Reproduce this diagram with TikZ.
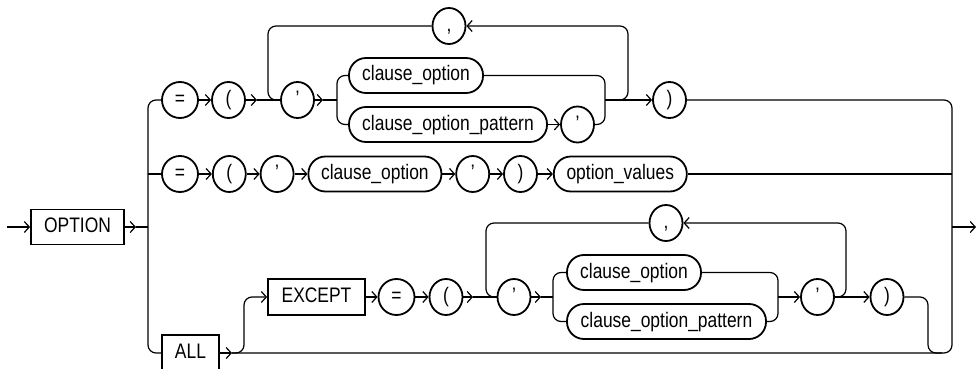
\documentclass[tikz,border=0pt]{standalone}
\usepackage{fontspec}
\setmainfont{Liberation Sans}[FakeStretch=0.83]
\usetikzlibrary{shapes.geometric,arrows.meta,positioning}

\begin{document}
\begin{tikzpicture}[
    x=1pt, y=-1pt,
    font=\fontsize{21}{24}\selectfont,
    node distance=13pt,
    line width=1.2pt,
    tok/.style={draw, ellipse, inner sep=0pt, minimum width=33pt, minimum height=36pt, line width=1.8pt, text height=15pt, text depth=4pt},
    nt/.style={draw, rectangle, rounded corners=17pt, inner sep=0pt, minimum height=35pt, line width=1.8pt, text height=15pt, text depth=4pt},
    kw/.style={draw, rectangle, inner sep=0pt, minimum height=35pt, line width=1.8pt, text height=15pt, text depth=4pt},
    arr/.style={-{Straight Barb[length=5pt,width=11pt]}},
    rail/.style={rounded corners=8pt}
]
\useasboundingbox (0,0) rectangle (977,369);

% entry
\coordinate (entry) at (7,227);
\node[kw, minimum width=93pt] (opt) at (77.5,227) {OPTION};
\coordinate (optarr) at (136,227);
\coordinate (lsplit) at (148,227);

% first row
\node[tok, minimum width=36pt] (eq1) at (180,100) {=};
\node[tok] (pa1) at (228.5,100) {(};
\node[tok] (q1) at (297.5,100) {’};
\node[tok] (cm1) at (449,26) {,};
\node[nt, minimum width=134pt] (co1) at (416,75.5) {clause\_option};
\node[nt, minimum width=198pt] (cop1) at (448,124.5) {clause\_option\_pattern};
\node[tok] (q2) at (577.5,124.5) {’};
\node[tok] (rp1) at (669.5,100) {)};
\coordinate (p1arr) at (257,100);
\coordinate (lp1) at (268,100);
\coordinate (q1arr) at (323,100);
\coordinate (s1) at (337,100);
\coordinate (m1) at (605,100);
\coordinate (lr1) at (628,26);

% second row
\node[tok, minimum width=36pt] (eq2) at (180,174) {=};
\node[tok, right=of eq2] (pa2) {(};
\node[tok, right=of pa2] (q3) {’};
\node[nt, minimum width=133pt, right=of q3] (co2) {clause\_option};
\node[tok, right=of co2] (q4) {’};
\node[tok, right=of q4] (rp2) {)};
\node[nt, minimum width=133pt, right=15pt of rp2] (ov) {option\_values};
\coordinate (l2) at (148,174);
\coordinate (r2) at (952,174);

% third row
\node[kw, minimum width=57pt, minimum height=36pt] (all) at (190.5,353) {ALL};
\node[kw, minimum width=97pt, minimum height=36pt] (exc) at (316.5,297) {EXCEPT};
\node[tok, minimum width=36pt] (eq3) at (396.5,297) {=};
\node[tok] (pa3) at (446,297) {(};
\node[tok] (q5) at (514,297) {’};
\node[tok] (cm2) at (666,223) {,};
\node[nt, minimum width=134pt] (co3) at (634,272.5) {clause\_option};
\node[nt, minimum width=199pt] (cop3) at (666.5,321.5) {clause\_option\_pattern};
\node[tok] (q6) at (817.5,297) {’};
\node[tok] (rp3) at (887,297) {)};
\coordinate (aarr) at (232,353);
\coordinate (ab) at (244,297);
\coordinate (p3arr) at (473,297);
\coordinate (lp3) at (486,297);
\coordinate (q5arr) at (541,297);
\coordinate (s3) at (553,297);
\coordinate (m3) at (778,297);
\coordinate (lr3) at (846,223);
\coordinate (rd) at (928,353);
\coordinate (rd2) at (942,353);

% exit
\coordinate (rbot) at (952,353);
\coordinate (rexit) at (952,227);
\coordinate (exitend) at (976,227);

% left side
\draw[arr] (entry) -- (opt.west);
\draw[arr] (opt.east) -- (optarr);
\draw (optarr) -- (lsplit);
\draw[rail] (eq1.west) -| (lsplit) |- (all.west);

% first row paths
\draw[arr] (eq1.east) -- (pa1.west);
\draw[arr] (pa1.east) -- (p1arr);
\draw (p1arr) -- (q1.west);
\draw[rail] (cm1.west) -| (lp1) -- (q1.west);
\draw[arr] (q1.east) -- (q1arr);
\draw (q1arr) -- (s1);
\draw[rail] (co1.west) -| (s1) |- (cop1.west);
\draw[rail] (co1.east) -| (m1) |- (q2.east);
\draw[arr] (cop1.east) -- (q2.west);
\draw[arr] (m1) -- (rp1.west);
\draw[arr, rail] (m1) -| (lr1) -- (cm1.east);
\draw[rail] (rp1.east) -| (rbot) -- (aarr);

% second row paths
\draw (l2) -- (eq2.west);
\foreach \a/\b in {eq2/pa2, pa2/q3, q3/co2, co2/q4, q4/rp2, rp2/ov}
  \draw[arr] (\a.east) -- (\b.west);
\draw (ov.east) -- (r2);

% third row paths
\draw[arr] (all.east) -- (aarr);
\draw[arr, rail] (aarr) -| (ab) -- (exc.west);
\draw[arr] (exc.east) -- (eq3.west);
\draw[arr] (eq3.east) -- (pa3.west);
\draw[arr] (pa3.east) -- (p3arr);
\draw (p3arr) -- (q5.west);
\draw[rail] (cm2.west) -| (lp3) -- (q5.west);
\draw[arr] (q5.east) -- (q5arr);
\draw (q5arr) -- (s3);
\draw[rail] (co3.west) -| (s3) |- (cop3.west);
\draw[rail] (co3.east) -| (m3) |- (cop3.east);
\draw[arr] (m3) -- (q6.west);
\draw[arr] (q6.east) -- (rp3.west);
\draw[arr, rail] (q6.east) -| (lr3) -- (cm2.east);
\draw[rail] (rp3.east) -| (rd) -- (rd2);

\draw[arr] (rexit) -- (exitend);
\end{tikzpicture}
\end{document}
